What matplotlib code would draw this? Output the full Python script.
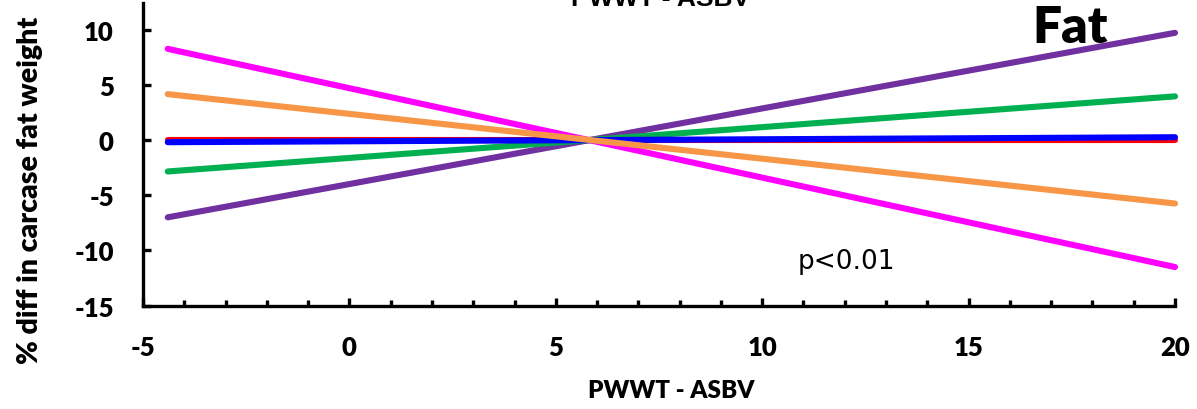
import numpy as np
import matplotlib
matplotlib.use("Agg")
import matplotlib.pyplot as plt

# regression lines, values read at both ends
x_ends = [-4.4, 20]
red = [0.0, 0.0]
blue = [-0.2, 0.25]
green = [-2.85, 3.95]
purple = [-7.0, 9.7]
orange = [4.15, -5.75]
magenta = [8.25, -11.5]

x_ticks = [-5, 0, 5, 10, 15, 20]
y_ticks = [-15, -10, -5, 0, 5, 10]

plt.rcParams['font.family'] = ['Lato', 'DejaVu Sans']

fig = plt.figure(figsize=(11.97, 4.10), dpi=100)
ax = fig.add_axes([143/1197, 1 - 306.7/410, (1175 - 143)/1197, (306.7 - 4)/410])

lw = 4.4
ax.plot(x_ends, magenta, color='#FF00FF', lw=lw, solid_capstyle='round', clip_on=False)
ax.plot(x_ends, purple, color='#7030A0', lw=lw, solid_capstyle='round', clip_on=False)
ax.plot(x_ends, green, color='#00B050', lw=lw, solid_capstyle='round', clip_on=False)
ax.plot(x_ends, red, color='#FF0000', lw=lw, solid_capstyle='round', clip_on=False)
ax.plot(x_ends, blue, color='#0000FF', lw=lw, solid_capstyle='round', clip_on=False)
ax.plot(x_ends, orange, color='#F79646', lw=lw, solid_capstyle='round', clip_on=False)

ax.set_xlim(-5, 20)
ax.set_ylim(-15, 12.4)
ax.set_xticks(x_ticks)
ax.set_xticks(np.arange(-5, 21, 1), minor=True)
ax.set_yticks(y_ticks)
ax.set_xticklabels([str(t) for t in x_ticks], fontweight='heavy', fontsize=18.5)
ax.set_yticklabels([str(t) for t in y_ticks], fontweight='heavy', fontsize=18.5)

for s in ['top', 'right']:
    ax.spines[s].set_visible(False)
for s in ['left', 'bottom']:
    ax.spines[s].set_linewidth(2.4)

ax.tick_params(axis='both', which='major', direction='in', length=6, width=2.4)
ax.tick_params(axis='x', which='minor', direction='in', length=4, width=2.4)
ax.tick_params(axis='x', which='major', pad=21)
ax.tick_params(axis='y', which='major', pad=21)

# title sits mostly above the figure edge, as in the original
fig.text(661/1197, 1 - 6/410, 'PWWT - ASBV', family='Liberation Sans', fontweight='bold',
         fontsize=19, ha='center', va='baseline')
fig.text(1070/1197, 1 - 43/410, 'Fat', fontweight='heavy', fontsize=37, ha='center', va='baseline')
fig.text(846/1197, 1 - 269/410, 'p<0.01', family='DejaVu Sans', fontsize=19, ha='center', va='baseline')
fig.text(671/1197, 1 - 398/410, 'PWWT - ASBV', fontweight='heavy', fontsize=17.5, ha='center', va='baseline')
fig.text(30/1197, 1 - 190/410, '% diff in carcase fat weight', fontweight='heavy', fontsize=20.5,
         rotation=90, ha='center', va='center')

fig.savefig('out.png', dpi=100)
